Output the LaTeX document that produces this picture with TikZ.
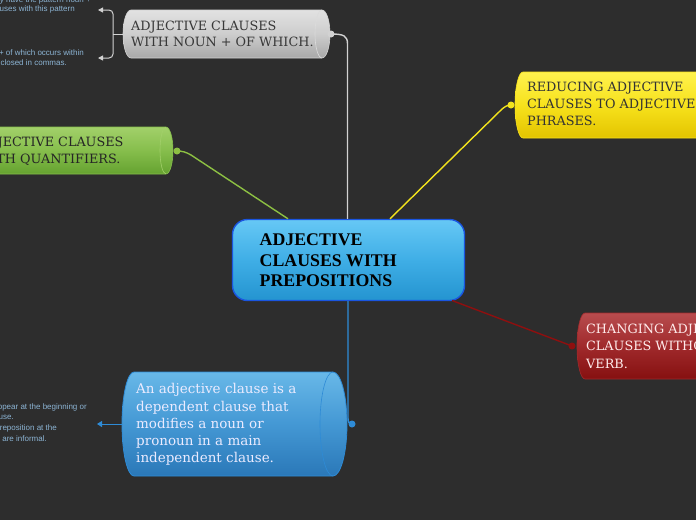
\documentclass[tikz,border=0pt]{standalone}
\usepackage{fontspec}
\setmainfont{DejaVu Serif}
\newfontfamily\headfont{Liberation Serif}
\newfontfamily\notefont{Liberation Sans}
\usetikzlibrary{arrows.meta}
\definecolor{bgc}{HTML}{2D2D2D}
\definecolor{notec}{HTML}{8CB4D4}
\definecolor{grayA}{HTML}{E2E2E2}
\definecolor{grayB}{HTML}{CDCDCD}
\definecolor{grayC}{HTML}{A8A8A8}
\definecolor{grayL}{HTML}{D2D2D2}
\definecolor{greenA}{HTML}{A2D06A}
\definecolor{greenB}{HTML}{86BE4C}
\definecolor{greenC}{HTML}{65A230}
\definecolor{greenL}{HTML}{8DC043}
\definecolor{yelA}{HTML}{FFF24E}
\definecolor{yelB}{HTML}{F7E21C}
\definecolor{yelC}{HTML}{E3C400}
\definecolor{yelL}{HTML}{F2E31C}
\definecolor{redA}{HTML}{B84C4E}
\definecolor{redB}{HTML}{A02A2C}
\definecolor{redC}{HTML}{861010}
\definecolor{redL}{HTML}{8E0F0F}
\definecolor{bluA}{HTML}{68B8E8}
\definecolor{bluB}{HTML}{4498D4}
\definecolor{bluC}{HTML}{2A78B8}
\definecolor{bluL}{HTML}{2E8BD6}
\definecolor{cenA}{HTML}{66C8F5}
\definecolor{cenB}{HTML}{3FAEE6}
\definecolor{cenC}{HTML}{2494D0}
\definecolor{cenL}{HTML}{1A55E0}
\tikzset{
  title/.style={anchor=base west, inner sep=0pt, font=\fontsize{12.8}{16}\selectfont},
  centitle/.style={anchor=base west, inner sep=0pt, font=\headfont\bfseries\fontsize{17.8}{20}\selectfont, text=black},
  bodytext/.style={anchor=base west, inner sep=0pt, font=\fontsize{13.5}{17}\selectfont, text=white!92!blue},
  note/.style={anchor=base west, inner sep=0pt, font=\notefont\fontsize{8}{10}\selectfont, text=notec},
  conn/.style={line width=1.4pt},
  knob/.style={circle, inner sep=0pt, minimum size=7pt},
  graybox/.style={top color=grayA, bottom color=grayC, middle color=grayB, draw=grayL, line width=0.6pt},
  greenbox/.style={top color=greenA, bottom color=greenC, middle color=greenB, draw=greenB, line width=0.6pt},
  yelbox/.style={top color=yelA, bottom color=yelC, middle color=yelB, draw=yelB, line width=0.6pt},
  redbox/.style={top color=redA, bottom color=redC, middle color=redB, draw=redB, line width=0.6pt},
  blubox/.style={top color=bluA, bottom color=bluC, middle color=bluB, draw=bluL, line width=0.8pt},
}
\begin{document}
\begin{tikzpicture}[x=1pt,y=-1pt]
\useasboundingbox (0,0) rectangle (696,520);
\fill[bgc] (0,0) rectangle (696,520);

% ---------- gray node (top) ----------
\shade[graybox] (131,10) -- (322,10) arc[start angle=-90,end angle=90,x radius=8,y radius=24]
  -- (131,58) arc[start angle=90,end angle=270,x radius=8,y radius=24] -- cycle;
\draw[grayL!80!white, line width=0.6pt] (322,10) arc[start angle=-90,end angle=-270,x radius=7,y radius=24];
\node[title, text=black!78] (g1) at (131,30) {ADJECTIVE CLAUSES};
\node[title, text=black!78] (g2) at (131,46) {WITH NOUN + OF WHICH.};
\coordinate (gdot) at (331,34);
\coordinate (gin) at (123,34);
\coordinate (bt) at (98,10);
\coordinate (bb) at (98,58);

% ---------- green node ----------
\shade[greenbox] (-20,127) -- (166,127) arc[start angle=-90,end angle=90,x radius=7,y radius=23.5] -- (-20,174) -- cycle;
\draw[greenA, line width=0.6pt] (166,127) arc[start angle=-90,end angle=-270,x radius=6,y radius=23.5];
\node[title, text=black!85] (q1) at (-22,146.5) {ADJECTIVE CLAUSES};
\node[title, text=black!85] (q2) at (-22,163) {WITH QUANTIFIERS.};
\coordinate (qdot) at (177,151);

% ---------- yellow node ----------
\shade[yelbox] (710,72) -- (523,72) arc[start angle=-90,end angle=-270,x radius=8,y radius=33] -- (710,138) -- cycle;
\node[title, text=black!80] (y1) at (527,91.5) {REDUCING ADJECTIVE};
\node[title, text=black!80] (y2) at (527,108.5) {CLAUSES TO ADJECTIVE};
\node[title, text=black!80] (y3) at (527,125.5) {PHRASES.};
\coordinate (ydot) at (511,105);

% ---------- red node ----------
\shade[redbox] (710,313) -- (585,313) arc[start angle=-90,end angle=-270,x radius=8,y radius=33] -- (710,379) -- cycle;
\node[title, text=red!8!white] (r1) at (586,333.5) {CHANGING ADJECTIVE};
\node[title, text=red!8!white] (r2) at (586,350.5) {CLAUSES WITHOUT A};
\node[title, text=red!8!white] (r3) at (586,368) {VERB.};
\coordinate (rdot) at (572,346);

% ---------- blue node (bottom) ----------
\shade[blubox] (134,372) -- (333,372) arc[start angle=-90,end angle=90,x radius=14,y radius=52]
  -- (134,476) arc[start angle=90,end angle=270,x radius=12,y radius=52] -- cycle;
\draw[bluL, line width=0.6pt] (333,372) arc[start angle=-90,end angle=-270,x radius=13,y radius=52];
\node[bodytext] (d1) at (136,393.3) {An adjective clause is a};
\node[bodytext] (d2) at (136,411) {dependent clause that};
\node[bodytext] (d3) at (136,428.3) {modifies a noun or};
\node[bodytext] (d4) at (136,445.7) {pronoun in a main};
\node[bodytext] (d5) at (136,462.3) {independent clause.};
\coordinate (bdot) at (352,424);
\coordinate (bin) at (122,424);
\coordinate (bout) at (97,424);

% ---------- central node ----------
\node[draw=cenL, line width=1.4pt, rounded corners=15pt, top color=cenA, bottom color=cenC, middle color=cenB,
      minimum width=232pt, minimum height=81pt, inner sep=0pt] (center) at (348.5,260) {};
\node[centitle] (c1) at (259.5,245.7) {ADJECTIVE};
\node[centitle] (c2) at (259.5,266.5) {CLAUSES WITH};
\node[centitle] (c3) at (259.5,286.7) {PREPOSITIONS};

% ---------- connectors ----------
\draw[conn, grayL] (center.north -| 347.5,0) -- (347.5,44) .. controls (347.5,36) and (344,34) .. (gdot);
\draw[conn, greenL] (center.north -| 288,0) -- (191,155) .. controls (186,152) and (182,151) .. (qdot);
\draw[conn, yelL] (center.north -| 390,0) -- (500,111) .. controls (504,107) and (507,105) .. (ydot);
\draw[conn, redL] (452,300.5) -- (rdot);
\draw[conn, bluL] (center.south -| 348,0) -- (348,418) .. controls (348,422) and (349,424) .. (bdot);
\node[knob, fill=grayL] at (gdot) {};
\node[knob, fill=greenL] at (qdot) {};
\node[knob, fill=yelL] at (ydot) {};
\node[knob, fill=redL] at (rdot) {};
\node[knob, fill=bluL] at (bdot) {};

% bracket from gray node
\draw[grayL, line width=1pt, rounded corners=4pt, -{Triangle[width=5pt,length=5pt]}] (113,34) |- (bt);
\draw[grayL, line width=1pt, rounded corners=4pt, -{Triangle[width=5pt,length=5pt]}] (113,34) |- (bb);
\draw[grayL, line width=1pt] (gin) -- (113,34);
% blue link to the left
\draw[bluL, line width=1pt, -{Triangle[width=6pt,length=5pt]}] (bin) -- (bout);

% ---------- side notes ----------
\node[note, anchor=base east] (n0) at (91,2) {y have the pattern noun +};
\node[note, anchor=base east] (n1) at (75,11.5) {Clauses with this pattern};
\node[note, anchor=base east] (n2) at (84,55) {noun + of which occurs within};
\node[note, anchor=base east] (n3) at (67,65.5) {enclosed in commas.};
\node[note, anchor=base east] (m1) at (87,409.5) {appear at the beginning or};
\node[note, anchor=base east] (m2) at (14,419.5) {clause.};
\node[note, anchor=base east] (m3) at (57,430.5) {preposition at the};
\node[note, anchor=base east] (m4) at (47,441.5) {clauses are informal.};
\end{tikzpicture}
\end{document}
